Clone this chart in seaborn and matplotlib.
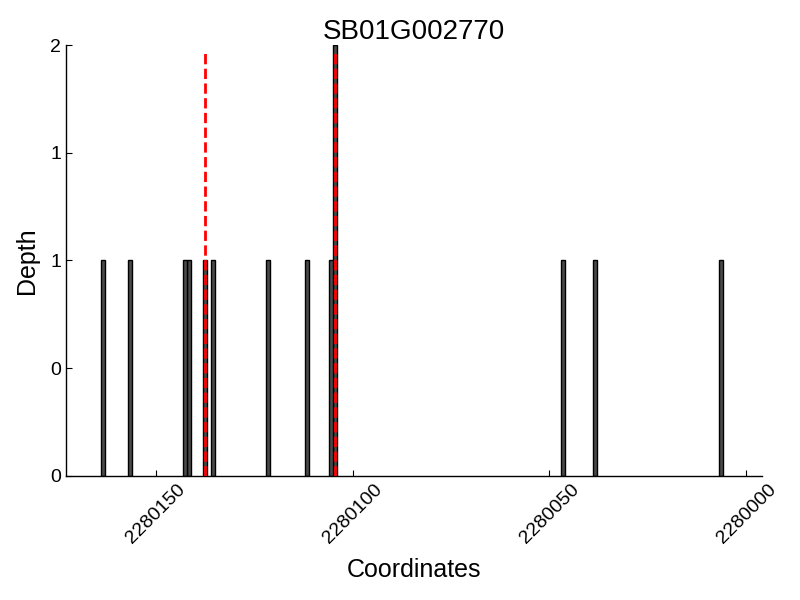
import numpy as np
import pandas as pd
import matplotlib
matplotlib.use('Agg')
import matplotlib.pyplot as plt
import matplotlib.ticker as mticker
import seaborn as sns

# data
coords = [2280163.5, 2280156.5, 2280142.5, 2280141.5, 2280137.5, 2280135.5,
          2280121.5, 2280111.5, 2280105.5, 2280104.5,
          2280046.5, 2280038.5, 2280006.5]
depth = [1, 1, 1, 1, 1, 1, 1, 1, 1, 2, 1, 1, 1]
marks = [2280137.5, 2280104.5]
gene = 'SB01G002770'

sns.set_style('ticks')
plt.rcParams['font.family'] = ['Liberation Sans', 'DejaVu Sans']
plt.rcParams['text.color'] = 'black'
plt.rcParams['axes.labelcolor'] = 'black'

df = pd.DataFrame({'Coordinates': coords, 'Depth': depth})

fig, ax = plt.subplots(figsize=(8, 6), dpi=100)
fig.subplots_adjust(left=0.0825, right=0.9525, top=0.925, bottom=0.207)

sns.barplot(data=df, x='Coordinates', y='Depth', native_scale=True,
            width=1, color='#4a4a4a', saturation=1, edgecolor='black',
            linewidth=1, errorbar=None, ax=ax)

ax.vlines(marks, 0, 1.97, colors='red', linestyles='--', linewidth=2, zorder=5)

ax.set_xlim(2280172.8, 2279996)
ax.set_ylim(0, 2)
ax.set_xticks([2280150, 2280100, 2280050, 2280000])
ax.xaxis.set_major_formatter(mticker.FormatStrFormatter('%d'))
ax.set_yticks([0, 0.5, 1, 1.5, 2])
ax.yaxis.set_major_formatter(mticker.FormatStrFormatter('%d'))
ax.tick_params(direction='in', length=4, width=0.8, labelsize=14,
               colors='black', labelcolor='black')
plt.setp(ax.get_xticklabels(), rotation=45, ha='center')

sns.despine(ax=ax)
for s in ['left', 'bottom']:
    ax.spines[s].set_color('black')
    ax.spines[s].set_linewidth(1)

ax.set_title(gene, fontsize=20, pad=4, color='black')
ax.set_xlabel('Coordinates', fontsize=18, labelpad=8)
ax.set_ylabel('Depth', fontsize=18, labelpad=8)

fig.savefig('out.png', dpi=100)
